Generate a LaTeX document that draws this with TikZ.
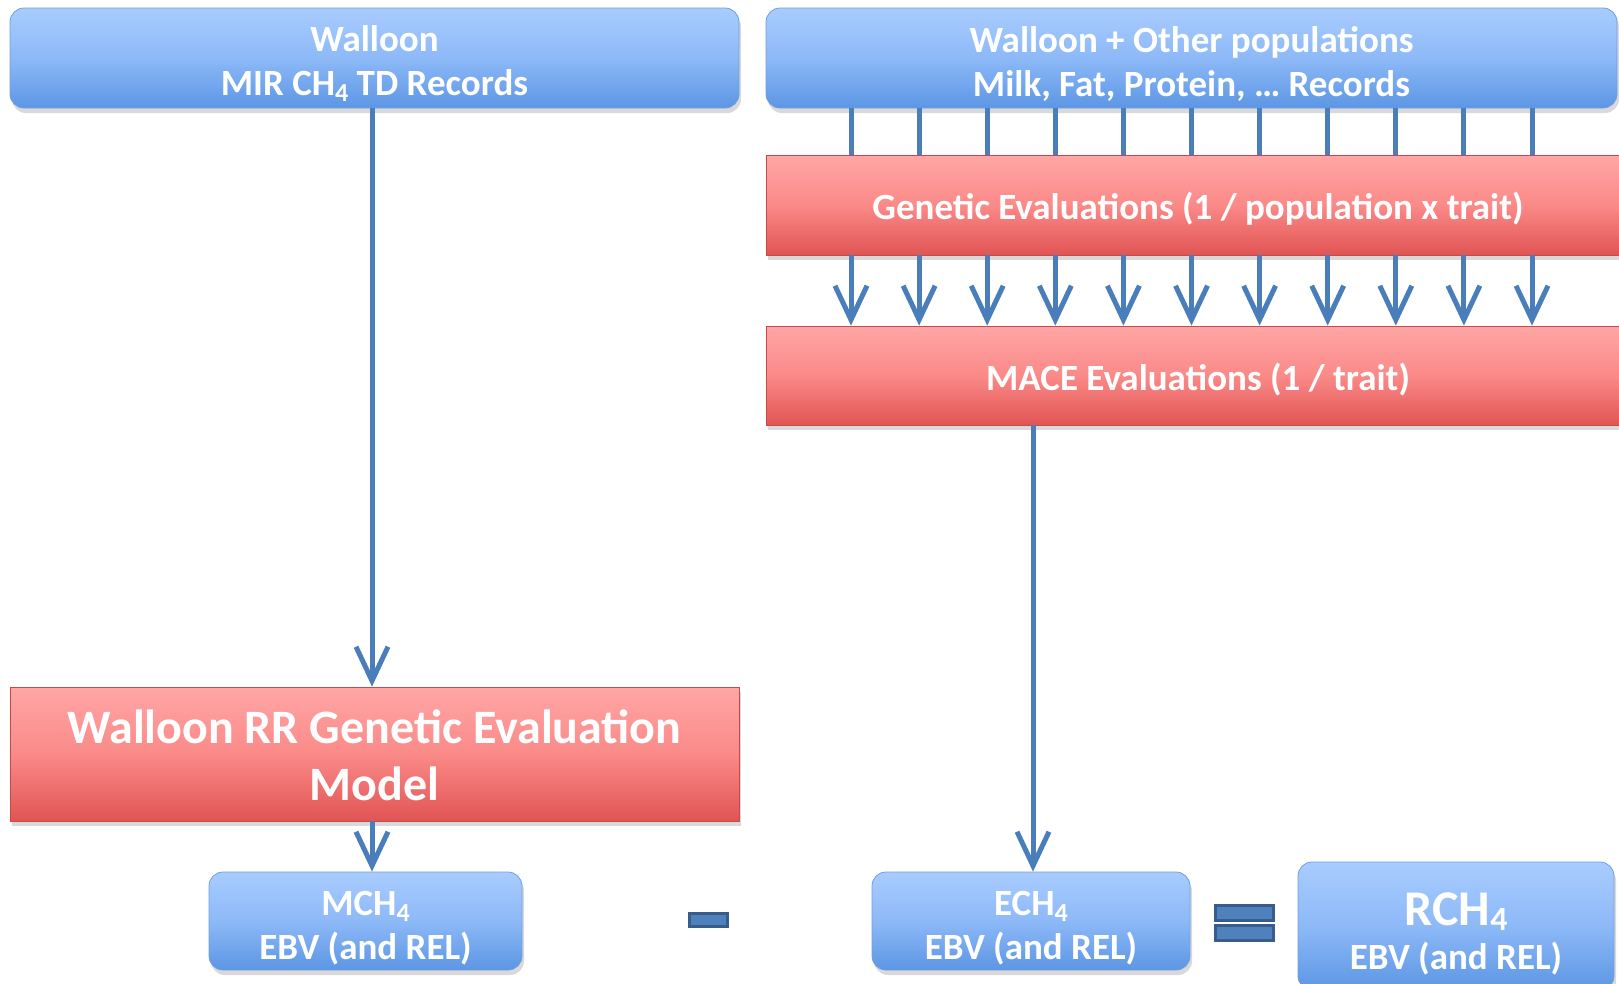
\documentclass[tikz,border=0pt]{standalone}
\usepackage{fontspec}
\setmainfont{Carlito}
\usetikzlibrary{arrows.meta,shadows}
\definecolor{arrowblue}{HTML}{4A7EBB}
\definecolor{bluetop}{HTML}{A9CCFF}
\definecolor{bluemid}{HTML}{8DB9F7}
\definecolor{bluebot}{HTML}{5C96E4}
\definecolor{blueedge}{HTML}{6E9FE0}
\definecolor{redtop}{HTML}{FFA6A6}
\definecolor{redmid}{HTML}{FA8A88}
\definecolor{redbot}{HTML}{E15454}
\definecolor{rededge}{HTML}{C54A4A}
\definecolor{opfill}{HTML}{4F81BD}
\definecolor{opedge}{HTML}{385D8A}
\newcommand\subfour[1]{\raisebox{-#1}{\fontsize{26}{26}\selectfont 4}}
\begin{document}
\begin{tikzpicture}[x=1pt,y=1pt,
  bluebox/.style={rounded corners=14pt, top color=bluetop, bottom color=bluebot, middle color=bluemid,
    draw=blueedge, line width=0.8pt, inner sep=0pt,
    drop shadow={opacity=0.3, shadow xshift=2pt, shadow yshift=-5pt}},
  redbox/.style={top color=redtop, bottom color=redbot, middle color=redmid,
    draw=rededge, line width=0.8pt, inner sep=0pt,
    drop shadow={opacity=0.3, shadow xshift=2pt, shadow yshift=-5pt}},
  txt/.style={text=white, align=center, inner sep=0pt, font=\fontsize{37}{44}\selectfont\bfseries},
  plainline/.style={draw=arrowblue, line width=5pt},
  conn/.style={draw=arrowblue, line width=5pt, -{Straight Barb[length=34pt,width=32pt]}},
  opbox/.style={fill=opfill, draw=opedge, line width=3pt, inner sep=0pt}]
\useasboundingbox (0,0) rectangle (1619,-983);
% top boxes
\node[bluebox, minimum width=729pt, minimum height=100pt] (wal) at (374.5,-58) {};
\node[txt] (walt) at ([yshift=-6pt]wal.center) {Walloon\\MIR CH\subfour{6pt} TD Records};
\node[bluebox, minimum width=851pt, minimum height=100pt] (wor) at (1191.5,-58) {};
\node[txt] (wort) at ([yshift=-6pt]wor.center) {Walloon + Other populations\\Milk, Fat, Protein, … Records};
% red boxes right
\node[redbox, minimum width=864pt, minimum height=100pt] (gen) at (1198,-205) {};
\node[txt] (gent) at ([yshift=-4pt]gen.center) {Genetic Evaluations (1 / population x trait)};
\node[redbox, minimum width=864pt, minimum height=99pt] (mace) at (1198,-375.5) {};
\node[txt] (macet) at ([yshift=-4pt]mace.center) {MACE Evaluations (1 / trait)};
% red box left
\node[redbox, minimum width=729pt, minimum height=134pt] (rr) at (374.5,-754) {};
\node[txt, font=\fontsize{48}{57}\selectfont\bfseries] (rrt) at ([yshift=-1pt]rr.center)
  {Walloon RR Genetic Evaluation\\Model};
% bottom boxes
\node[bluebox, minimum width=313pt, minimum height=98pt] (mch) at (365.5,-921) {};
\node[txt] (mcht) at ([yshift=-7pt]mch.center) {MCH\subfour{6pt}\\EBV (and REL)};
\node[bluebox, minimum width=318pt, minimum height=98pt] (ech) at (1031,-921) {};
\node[txt] (echt) at ([yshift=-7pt]ech.center) {ECH\subfour{6pt}\\EBV (and REL)};
\node[bluebox, minimum width=316pt, minimum height=128pt] (rch) at (1456,-926) {};
\node[txt] (rcht) at ([yshift=-8pt]rch.center)
  {{\fontsize{50}{54}\selectfont RCH\raisebox{-5pt}{\fontsize{34}{34}\selectfont 4}}\\EBV (and REL)};
% operators
\node[opbox, minimum width=38pt, minimum height=13pt] (minus) at (708.5,-920) {};
\node[opbox, minimum width=58pt, minimum height=15pt] (eqa) at (1244.5,-913) {};
\node[opbox, minimum width=58pt, minimum height=15pt] (eqb) at (1244.5,-933) {};
% connectors
\coordinate (lx) at (372,0);
\coordinate (mx) at (1033,0);
\draw[conn] (wal.south -| lx) -- (rr.north -| lx);
\draw[conn] (rr.south -| lx) -- (mch.north -| lx);
\draw[conn] (mace.south -| mx) -- (ech.north -| mx);
\foreach \i in {0,...,10}{
  \pgfmathsetmacro\xx{851+68.1*\i}
  \coordinate (c\i) at (\xx,0);
  \draw[plainline] (wor.south -| c\i) -- (gen.north -| c\i);
  \draw[conn] (gen.south -| c\i) -- (mace.north -| c\i);
}
\end{tikzpicture}
\end{document}
